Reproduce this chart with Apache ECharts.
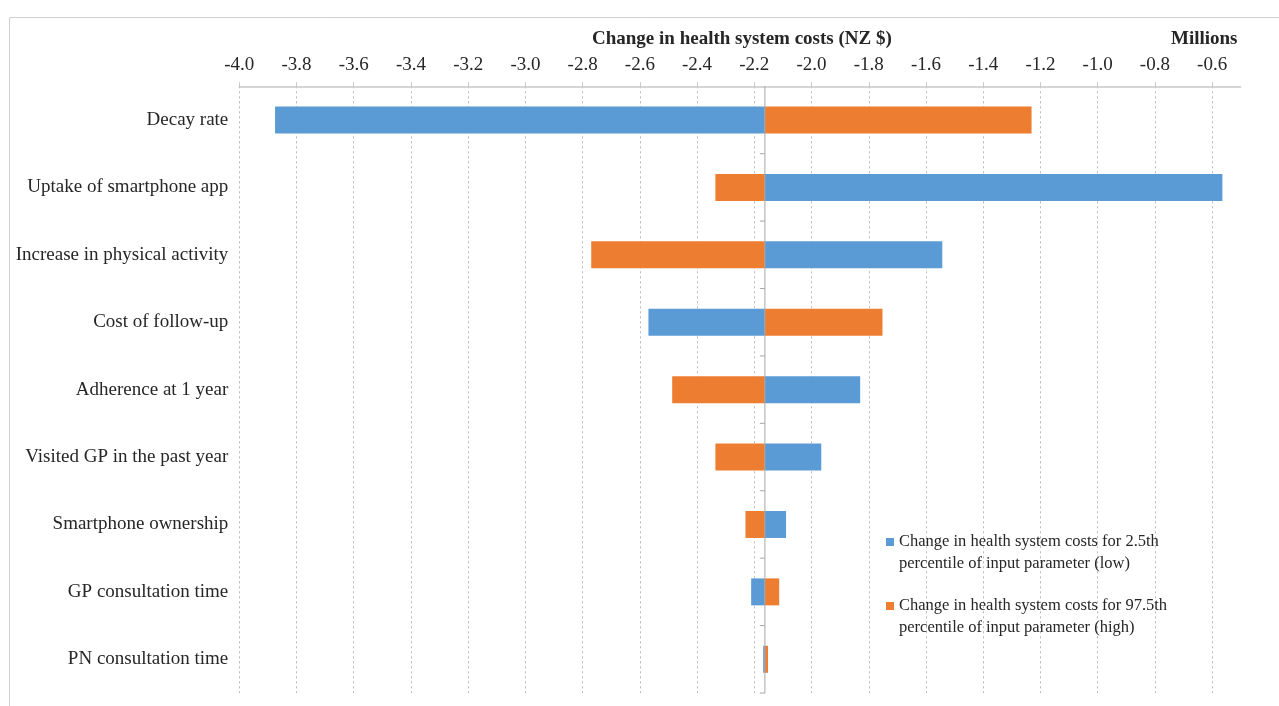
<!DOCTYPE html>
<html>
<head>
<meta charset="utf-8">
<script src="https://cdn.jsdelivr.net/npm/echarts@6/dist/echarts.min.js"></script>
<style>
  html, body { margin: 0; padding: 0; background: #fff; }
  #chart { width: 1279px; height: 706px; }
</style>
</head>
<body>
<div id="chart"></div>
<script>
// categories, top to bottom
var categories = ['Decay rate', 'Uptake of smartphone app', 'Increase in physical activity',
    'Cost of follow-up', 'Adherence at 1 year', 'Visited GP in the past year',
    'Smartphone ownership', 'GP consultation time', 'PN consultation time'];

// base case (where the bars meet), millions NZ$
var baseline = -2.163;

// 2.5th percentile (low) and 97.5th percentile (high)
var lowValues = [-3.875, -0.564, -1.543, -2.570, -1.830, -1.966, -2.089, -2.211, -2.169];
var highValues = [-1.231, -2.336, -2.770, -1.752, -2.487, -2.336, -2.231, -2.113, -2.152];

var lowName = 'Change in health system costs for 2.5th\npercentile of input parameter (low)';
var highName = 'Change in health system costs for 97.5th\npercentile of input parameter (high)';

var serif = 'Liberation Serif';
var textColor = '#262626';

function toData(vals) {
    return vals.map(function (v, i) { return [v, i]; });
}

// bar from the baseline to the value
function renderBar(params, api) {
    var cat = api.value(1);
    var p0 = api.coord([baseline, cat]);
    var p1 = api.coord([api.value(0), cat]);
    var h = api.size([0, 1])[1] * 0.4;
    return {
        type: 'rect',
        shape: {
            x: Math.min(p0[0], p1[0]),
            y: p0[1] - h / 2,
            width: Math.abs(p1[0] - p0[0]),
            height: h
        },
        style: api.style()
    };
}

// vertical category axis line crossing at the baseline, with ticks
function renderAxis(params, api) {
    var p = api.coord([baseline, api.value(1)]);
    var band = api.size([0, 1])[1];
    var st = { stroke: '#a6a6a6', lineWidth: 1 };
    return {
        type: 'group',
        children: [
            { type: 'line', shape: { x1: p[0], y1: p[1] - band / 2, x2: p[0], y2: p[1] + band / 2 }, style: st },
            { type: 'line', shape: { x1: p[0] - 5, y1: p[1] + band / 2, x2: p[0], y2: p[1] + band / 2 }, style: st }
        ]
    };
}

var chart = echarts.init(document.getElementById('chart'));

chart.setOption({
    animation: false,
    backgroundColor: '#fff',
    title: [{
        text: 'Change in health system costs (NZ $)',
        left: 587, top: 25,
        textStyle: { fontFamily: serif, fontSize: 19, fontWeight: 'bold', color: textColor }
    }, {
        text: 'Millions',
        left: 1166, top: 25,
        textStyle: { fontFamily: serif, fontSize: 19, fontWeight: 'bold', color: textColor }
    }],
    graphic: [{
        type: 'rect',
        shape: { x: 9.5, y: 17.5, width: 1300, height: 720 },
        style: { fill: 'none', stroke: '#d0d0d0', lineWidth: 1 },
        silent: true
    }],
    legend: {
        orient: 'vertical',
        left: 886,
        top: 509,
        padding: 0,
        itemWidth: 8,
        itemHeight: 8,
        itemGap: -2,
        icon: 'rect',
        data: [lowName, highName],
        // blank first line so the marker sits beside the first text line
        formatter: function (name) { return ' \n' + name; },
        textStyle: { fontFamily: serif, fontSize: 16.5, color: textColor, lineHeight: 22 }
    },
    grid: { left: 239.3, right: 38.3, top: 86.3, bottom: 13, containLabel: false },
    xAxis: {
        type: 'value',
        position: 'top',
        min: -4.0,
        max: -0.5,
        interval: 0.2,
        axisLine: { show: true, lineStyle: { color: '#c8c8c8', width: 1.5 } },
        axisTick: { show: true, length: 4, lineStyle: { color: '#c8c8c8' } },
        axisLabel: {
            margin: 12, showMaxLabel: false,
            fontFamily: serif, fontSize: 19, color: textColor,
            formatter: function (v) { return v.toFixed(1); }
        },
        splitLine: { show: true, showMaxLine: false, lineStyle: { type: [2, 3], color: '#b8b8b8' } }
    },
    yAxis: {
        type: 'category',
        inverse: true,
        data: categories,
        axisLine: { show: false },
        axisTick: { show: false },
        splitLine: { show: false },
        axisLabel: { margin: 11, fontFamily: serif, fontSize: 19, color: textColor }
    },
    series: [{
        name: lowName,
        type: 'custom',
        renderItem: renderBar,
        encode: { x: 0, y: 1 },
        itemStyle: { color: '#5b9bd5' },
        data: toData(lowValues),
        z: 2
    }, {
        name: highName,
        type: 'custom',
        renderItem: renderBar,
        encode: { x: 0, y: 1 },
        itemStyle: { color: '#ed7d31' },
        data: toData(highValues),
        z: 2
    }, {
        name: 'axis',
        type: 'custom',
        renderItem: renderAxis,
        encode: { x: 0, y: 1 },
        silent: true,
        data: categories.map(function (c, i) { return [baseline, i]; }),
        z: 3
    }]
});
</script>
</body>
</html>
